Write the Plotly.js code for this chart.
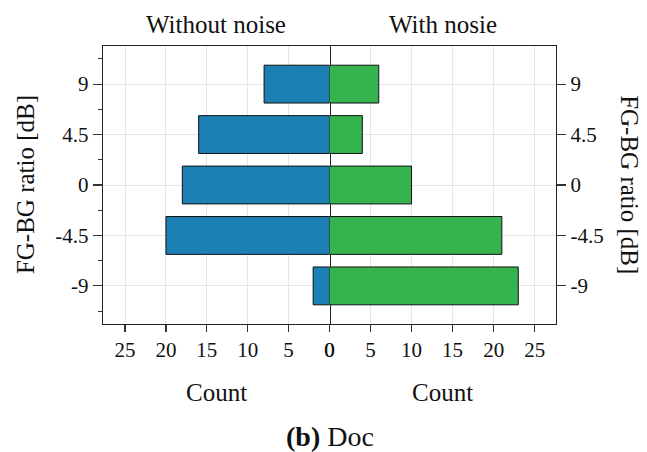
<!DOCTYPE html>
<html>
<head>
<meta charset="utf-8">
<script src="https://cdn.plot.ly/plotly-3.0.1.min.js"></script>
<style>html,body{margin:0;padding:0;background:#fff;}#chart{width:647px;height:452px;}</style>
</head>
<body>
<div id="chart"></div>
<script>
const ratios = [-9, -4.5, 0, 4.5, 9];
const ratioLabels = ['-9', '-4.5', '0', '4.5', '9'];
const withoutNoise = [2, 20, 18, 16, 8];
const withNoise = [23, 21, 10, 4, 6];
const countTicks = [0, 5, 10, 15, 20, 25];
const leftTitle = 'Without noise';
const rightTitle = 'With nosie';
const xLabel = 'Count';
const yLabel = 'FG-BG ratio [dB]';
const caption = '<b>(b)</b> Doc';

const FONT = 'Liberation Serif';
const tickFont = {family: FONT, size: 21, color: '#111'};
const titleFont = {family: FONT, size: 25, color: '#111'};

const traces = [
  {type: 'bar', orientation: 'h', y: ratios, x: withoutNoise, xaxis: 'x', yaxis: 'y',
   width: 3.375, marker: {color: '#1c80b4', line: {color: '#111', width: 1}}, hoverinfo: 'skip'},
  {type: 'bar', orientation: 'h', y: ratios, x: withNoise, xaxis: 'x2', yaxis: 'y2',
   width: 3.375, marker: {color: '#35b34f', line: {color: '#111', width: 1}}, hoverinfo: 'skip'}
];

const axCommon = {
  showline: true, linecolor: '#222', linewidth: 1.2, mirror: true,
  showgrid: true, gridcolor: '#e6e6e6', gridwidth: 1, zeroline: false,
  ticks: 'outside', ticklen: 7, tickwidth: 1.2, tickcolor: '#333',
  tickfont: tickFont, fixedrange: true
};

const layout = {
  width: 647, height: 452,
  margin: {l: 103, r: 91, t: 46, b: 128},
  paper_bgcolor: '#fff', plot_bgcolor: '#fff',
  showlegend: false,
  xaxis: Object.assign({}, axCommon, {domain: [0, 0.5], range: [27.7, 0], tickvals: countTicks, anchor: 'y'}),
  xaxis2: Object.assign({}, axCommon, {domain: [0.5, 1], range: [0, 27.6], tickvals: countTicks, anchor: 'y2'}),
  yaxis: Object.assign({}, axCommon, {range: [-12.4, 12.4], tickvals: ratios, ticktext: ratioLabels, anchor: 'x', ticklen: 9,
    minor: {tickvals: [-11.25, -6.75, -2.25, 2.25, 6.75, 11.25], ticks: 'outside', ticklen: 4, tickcolor: '#333', showgrid: false}}),
  yaxis2: Object.assign({}, axCommon, {range: [-12.4, 12.4], tickvals: ratios, ticktext: ratioLabels, anchor: 'x2', side: 'right', ticklen: 9, mirror: false}),
  annotations: [
    {text: leftTitle, xref: 'paper', yref: 'paper', x: 0.25, y: 1.076, showarrow: false, font: titleFont, xanchor: 'center', yanchor: 'middle'},
    {text: rightTitle, xref: 'paper', yref: 'paper', x: 0.75, y: 1.076, showarrow: false, font: titleFont, xanchor: 'center', yanchor: 'middle'},
    {text: xLabel, xref: 'paper', yref: 'paper', x: 0.25, y: -0.248, showarrow: false, font: titleFont, xanchor: 'center', yanchor: 'middle'},
    {text: xLabel, xref: 'paper', yref: 'paper', x: 0.75, y: -0.248, showarrow: false, font: titleFont, xanchor: 'center', yanchor: 'middle'},
    {text: caption, xref: 'paper', yref: 'paper', x: 0.5, y: -0.406, showarrow: false, font: {family: FONT, size: 28, color: '#111'}, xanchor: 'center', yanchor: 'middle'},
    {text: yLabel, xref: 'paper', yref: 'paper', x: -0.172, y: 0.5, showarrow: false, font: titleFont, textangle: -90, xanchor: 'center', yanchor: 'middle'},
    {text: yLabel, xref: 'paper', yref: 'paper', x: 1.163, y: 0.5, showarrow: false, font: titleFont, textangle: 90, xanchor: 'center', yanchor: 'middle'}
  ]
};

Plotly.newPlot('chart', traces, layout, {staticPlot: true, displayModeBar: false});
</script>
</body>
</html>
